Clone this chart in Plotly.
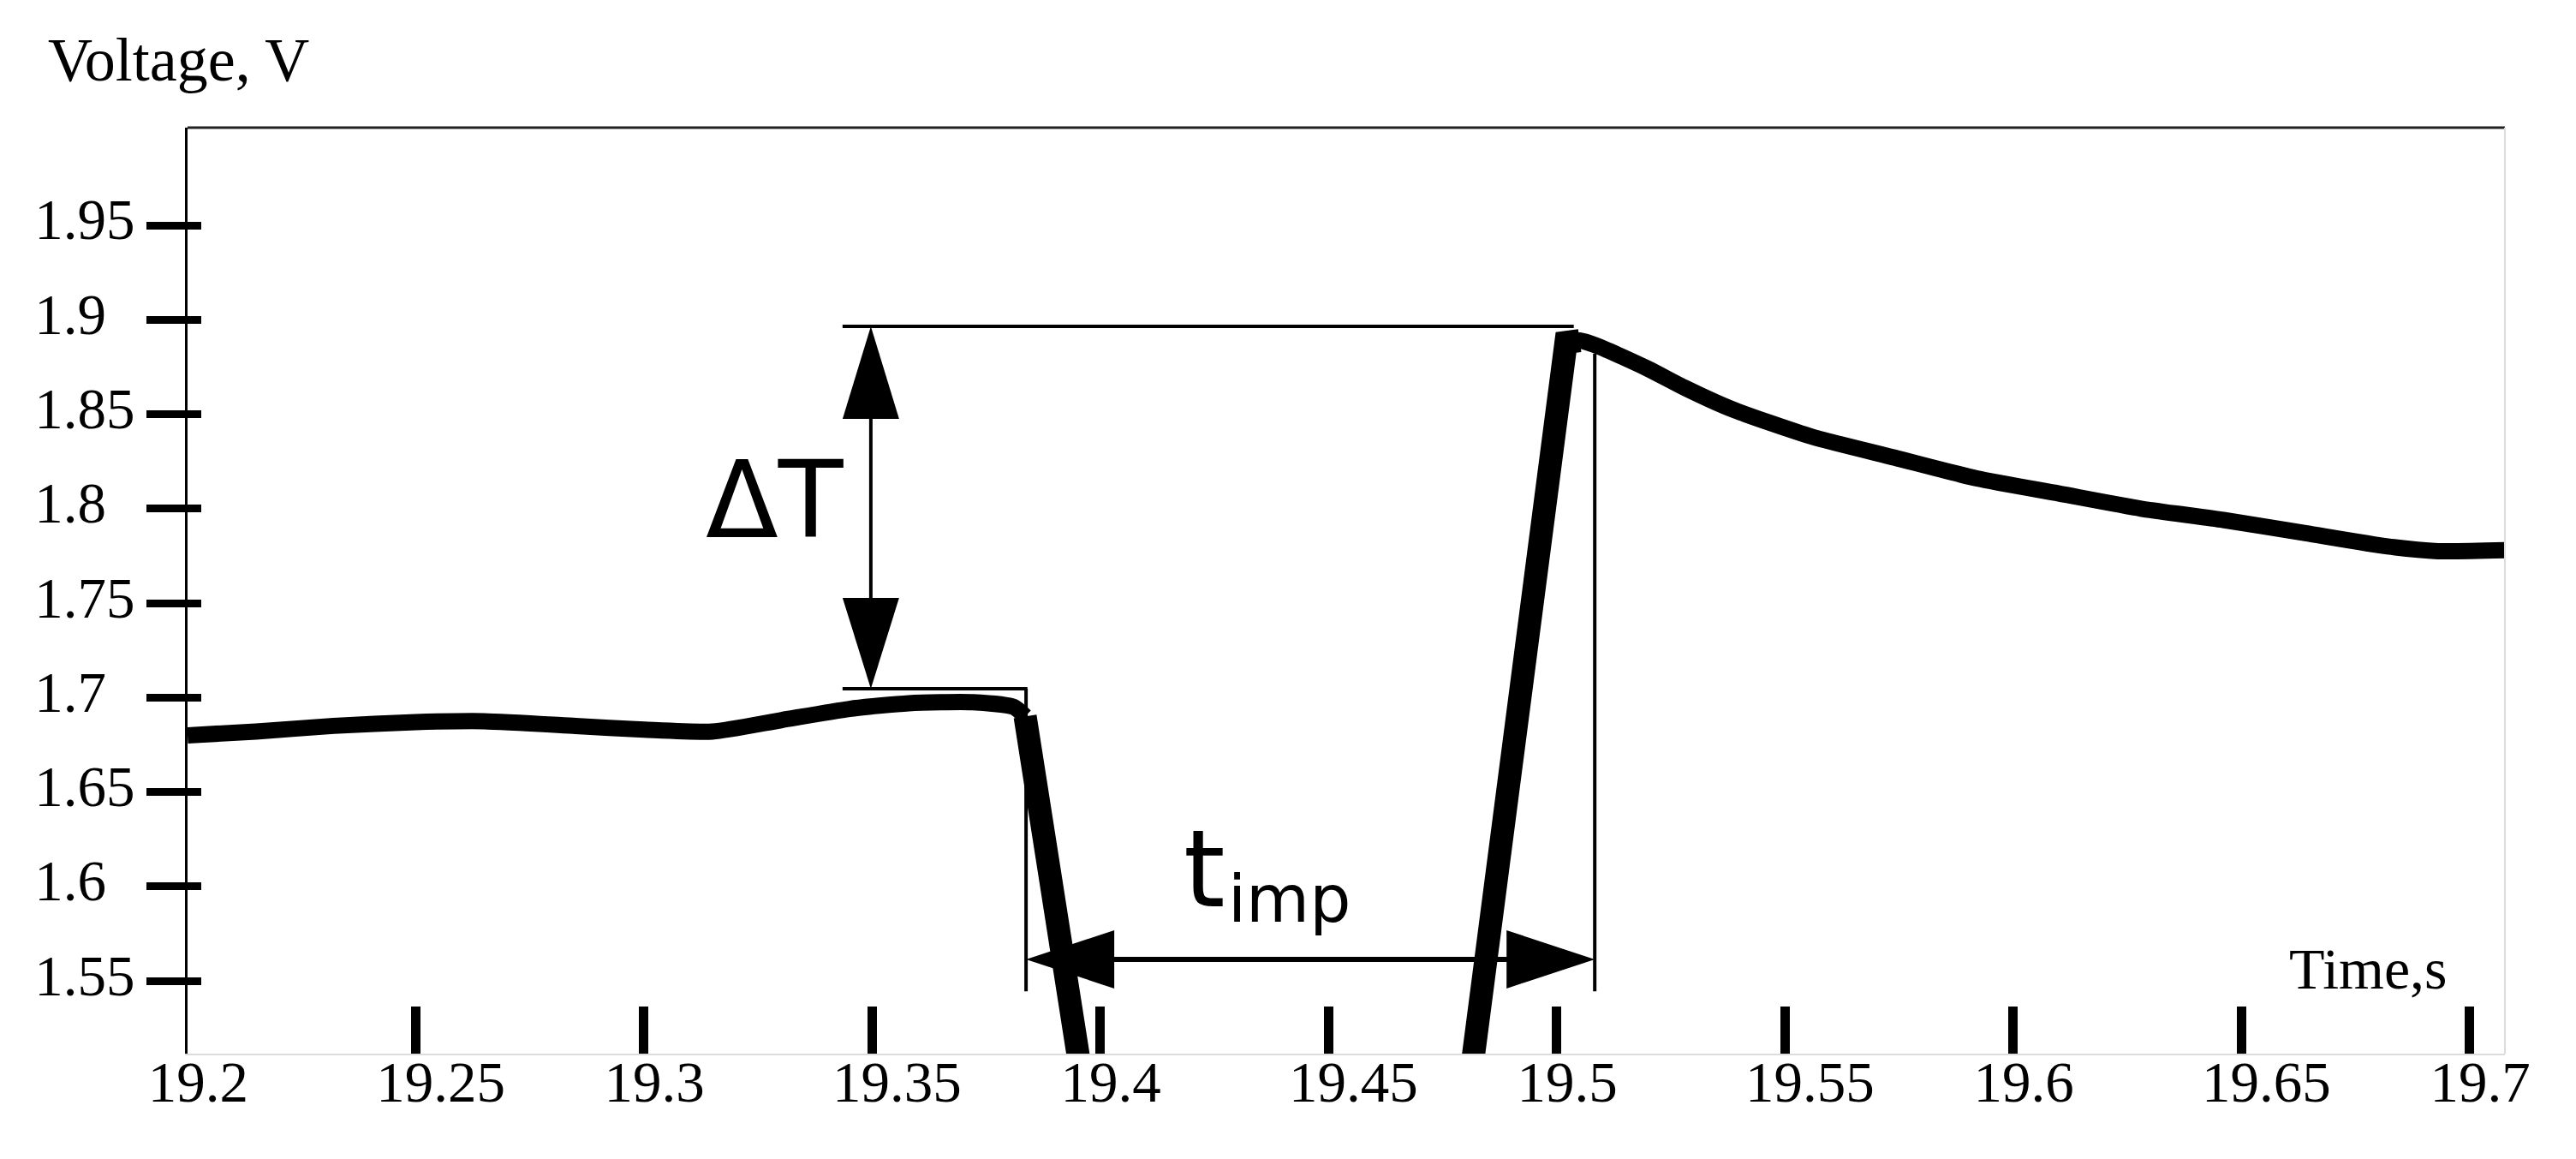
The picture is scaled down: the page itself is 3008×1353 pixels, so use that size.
import plotly.graph_objects as go

# Voltage trace
time_s = [19.200, 19.215, 19.232, 19.250, 19.265, 19.285, 19.300, 19.315,
          19.330, 19.345, 19.358, 19.372, 19.381, 19.3835, 19.3857, 19.3897,
          19.3951, 19.3984, 19.4790, 19.4818, 19.4865, 19.4940, 19.5020,
          19.5050, 19.5090, 19.5200, 19.5280, 19.5380, 19.5560, 19.5740,
          19.5920, 19.6100, 19.6280, 19.6460, 19.6640, 19.6820, 19.6930,
          19.7077]
voltage_v = [1.680, 1.682, 1.685, 1.687, 1.6875, 1.685, 1.683, 1.682,
             1.688, 1.694, 1.697, 1.6975, 1.695, 1.690, 1.6557, 1.612,
             1.518, 1.460, 1.460, 1.5115, 1.612, 1.750, 1.888,
             1.889, 1.886, 1.874, 1.864, 1.853, 1.838, 1.827,
             1.816, 1.808, 1.800, 1.794, 1.787, 1.780, 1.7775,
             1.778]
PULSE_START, PULSE_END = 13, 23   # indices where the steep part begins / ends

X_TICKS = [19.2, 19.25, 19.3, 19.35, 19.4, 19.45, 19.5, 19.55, 19.6, 19.65, 19.7]
X_TICK_LABELS = ["19.2", "19.25", "19.3", "19.35", "19.4", "19.45", "19.5",
                 "19.55", "19.6", "19.65", "19.7"]
Y_TICKS = [1.55, 1.6, 1.65, 1.7, 1.75, 1.8, 1.85, 1.9, 1.95]
Y_TICK_LABELS = ["1.55", "1.6", "1.65", "1.7", "1.75", "1.8", "1.85", "1.9", "1.95"]

X_RANGE = [19.2, 19.7077]
Y_RANGE = [1.5115, 2.0017]

# annotation anchors (data units)
DT_X = 19.3497          # vertical double arrow
DT_LOW = 1.7047
DT_HIGH = 1.8965
DT_LINE_X0 = 19.3435
DT_LOW_LINE_X1 = 19.384
DT_HIGH_LINE_X1 = 19.5037
T_START = 19.3837       # pulse start / end marks
T_END = 19.5083
T_ARROW_Y = 1.5614
T_LINE_BOTTOM = 1.5445
T_END_LINE_TOP = 1.882

# page geometry
W, H = 3008, 1353
L, R, T, B = 211, 91, 141, 131
PW, PH = W - L - R, H - T - B


def dx(px):
    return px * (X_RANGE[1] - X_RANGE[0]) / PW


def dy(px):
    return px * (Y_RANGE[1] - Y_RANGE[0]) / PH


def paper_x(px):
    return (px - L) / PW


def paper_y(py):
    return (H - B - py) / PH


def pad(lbl, n):
    # Times digits are twice as wide as a space: left-align by padding
    return lbl + "\u00a0" * (2 * (n - len(lbl)))


serif = "Liberation Serif, Times New Roman, serif"
sans = "DejaVu Sans, sans-serif"

fig = go.Figure()
# slow parts drawn smooth, steep pulse edges drawn heavier (as in the scan)
segments = [(0, PULSE_START + 1, 19, "spline"),
            (PULSE_START, PULSE_END + 1, 27, "linear"),
            (PULSE_END - 1, len(time_s), 19, "spline")]
for i0, i1, w, shape in segments:
    fig.add_trace(go.Scatter(x=time_s[i0:i1], y=voltage_v[i0:i1], mode="lines",
                             line=dict(color="black", width=w, shape=shape, smoothing=0.6),
                             showlegend=False, hoverinfo="skip"))
# empty trace so the overlaid tick-only axes get drawn
fig.add_trace(go.Scatter(x=[], y=[], xaxis="x2", yaxis="y2", showlegend=False))

thin = dict(color="black", width=4)
shapes = [
    # frame
    dict(type="line", xref="paper", yref="paper", x0=0, x1=1, y0=1, y1=1,
         line=dict(color="#222", width=3)),
    dict(type="line", xref="paper", yref="paper", x0=1, x1=1, y0=0, y1=1,
         line=dict(color="#dcdcdc", width=2)),
    # delta T guide lines
    dict(type="line", x0=DT_LINE_X0, x1=DT_HIGH_LINE_X1, y0=DT_HIGH, y1=DT_HIGH, line=thin),
    dict(type="line", x0=DT_LINE_X0, x1=DT_LOW_LINE_X1, y0=DT_LOW, y1=DT_LOW, line=thin),
    dict(type="line", x0=DT_X, x1=DT_X, y0=DT_LOW + dy(100), y1=DT_HIGH - dy(100), line=thin),
    # t_imp guide lines
    dict(type="line", x0=T_START, x1=T_START, y0=T_LINE_BOTTOM, y1=DT_LOW, line=thin),
    dict(type="line", x0=T_END, x1=T_END, y0=T_LINE_BOTTOM, y1=T_END_LINE_TOP, line=thin),
    dict(type="line", x0=T_START + dx(95), x1=T_END - dx(95), y0=T_ARROW_Y, y1=T_ARROW_Y,
         line=dict(color="black", width=6)),
]


def head(tipx, tipy, dirx, diry, length, half):
    # filled triangle, sizes in pixels
    bx, by = tipx - dirx * dx(length), tipy - diry * dy(length)
    px_, py_ = -diry, dirx
    p1 = (bx + px_ * dx(half), by + py_ * dy(half))
    p2 = (bx - px_ * dx(half), by - py_ * dy(half))
    return dict(type="path", path=f"M {tipx},{tipy} L {p1[0]},{p1[1]} L {p2[0]},{p2[1]} Z",
                fillcolor="black", line=dict(width=0))


shapes += [
    head(DT_X, DT_HIGH, 0, 1, 108, 33),
    head(DT_X, DT_LOW, 0, -1, 106, 33),
    head(T_START, T_ARROW_Y, -1, 0, 103, 34),
    head(T_END, T_ARROW_Y, 1, 0, 103, 34),
]

annotations = [
    dict(text="Voltage, V", x=paper_x(46), y=paper_y(62), xanchor="left", yanchor="middle",
         font=dict(family=serif, size=72, color="black")),
    dict(text="Time,s", x=paper_x(2663), y=paper_y(1123), xanchor="left", yanchor="middle",
         font=dict(family=serif, size=68, color="black")),
    dict(text="\u0394T", x=paper_x(897), y=paper_y(576), xanchor="center", yanchor="middle",
         font=dict(family=sans, size=124, color="black")),
    dict(text="t", x=paper_x(1372), y=paper_y(1007), xanchor="left", yanchor="middle",
         font=dict(family=sans, size=124, color="black")),
    dict(text="imp", x=paper_x(1424), y=paper_y(1041), xanchor="left", yanchor="middle",
         font=dict(family=sans, size=76, color="black")),
]
for a in annotations:
    a.update(xref="paper", yref="paper", showarrow=False)

tickfont = dict(family=serif, size=67, color="black")
fig.update_layout(
    width=W, height=H,
    margin=dict(l=L, r=R, t=T, b=B),
    paper_bgcolor="white", plot_bgcolor="white",
    shapes=shapes, annotations=annotations,
    xaxis=dict(range=X_RANGE, tickvals=X_TICKS,
               ticktext=[pad(s, 5) for s in X_TICK_LABELS],
               ticks="", showgrid=False, zeroline=False,
               showline=True, linecolor="#dcdcdc", linewidth=2,
               tickfont=tickfont, ticklabelshift=29, ticklabelstandoff=-26),
    yaxis=dict(range=Y_RANGE, tickvals=Y_TICKS,
               ticktext=[pad(s, 4) for s in Y_TICK_LABELS],
               ticks="outside", ticklen=45, tickwidth=9, tickcolor="black",
               showgrid=False, zeroline=False,
               showline=True, linecolor="black", linewidth=3,
               tickfont=tickfont, ticklabelshift=-7),
    xaxis2=dict(range=X_RANGE, overlaying="x", anchor="y2", side="bottom",
                tickvals=X_TICKS[1:], ticks="inside", ticklen=55, tickwidth=11,
                tickcolor="black", showticklabels=False, showgrid=False,
                zeroline=False, showline=False),
    yaxis2=dict(range=Y_RANGE, overlaying="y", anchor="x2", side="left",
                tickvals=Y_TICKS, ticks="inside", ticklen=16, tickwidth=9,
                tickcolor="black", showticklabels=False, showgrid=False,
                zeroline=False, showline=False),
)

fig.write_html("out.html", config={"displayModeBar": False})
